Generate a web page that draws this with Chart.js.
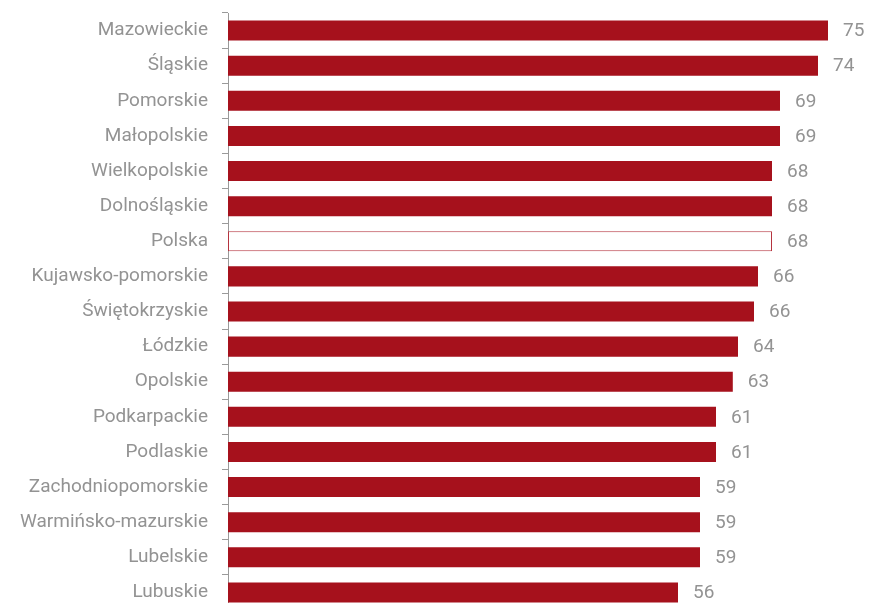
<!DOCTYPE html>
<html>
<head>
<meta charset="utf-8">
<script src="https://cdn.jsdelivr.net/npm/chart.js@4/dist/chart.umd.min.js"></script>
<style>
  html, body { margin: 0; padding: 0; background: #fff; overflow: hidden; }
  #wrap { position: relative; width: 871px; height: 610px; }
</style>
</head>
<body>
<div id="wrap"><canvas id="myChart"></canvas></div>
<script>
const regions = ['Mazowieckie', 'Śląskie', 'Pomorskie', 'Małopolskie', 'Wielkopolskie', 'Dolnośląskie', 'Polska',
  'Kujawsko-pomorskie', 'Świętokrzyskie', 'Łódzkie', 'Opolskie', 'Podkarpackie', 'Podlaskie',
  'Zachodniopomorskie', 'Warmińsko-mazurskie', 'Lubelskie', 'Lubuskie'];
// bar lengths (labels are rounded)
const values = [75, 73.75, 69, 69, 68, 68, 68, 66.25, 65.75, 63.75, 63.1, 61, 61, 59, 59, 59, 56.25];
const valueText = ['75', '74', '69', '69', '68', '68', '68', '66', '66', '64', '63', '61', '61', '59', '59', '59', '56'];
const highlight = 'Polska';

const red = '#a6111c';
const grey = '#939393';

const valueLabels = {
  id: 'valueLabels',
  afterDatasetsDraw(chart) {
    const ctx = chart.ctx;
    const meta = chart.getDatasetMeta(0);
    ctx.save();
    ctx.font = '19px Roboto';
    ctx.fillStyle = grey;
    ctx.textAlign = 'left';
    ctx.textBaseline = 'middle';
    meta.data.forEach((bar, i) => {
      ctx.fillText(valueText[i], bar.x + 15, bar.y + 1);
    });
    ctx.restore();
  }
};

const ctx = document.getElementById('myChart').getContext('2d');
const myChart = new Chart(ctx, {
  type: 'bar',
  data: {
    labels: regions,
    datasets: [{
      data: values,
      backgroundColor: regions.map(r => r === highlight ? '#ffffff' : red),
      borderColor: regions.map(r => r === highlight ? '#b5343f' : red),
      borderWidth: regions.map(r => r === highlight ? 1 : 0),
      borderSkipped: false,
      barPercentage: 0.57,
      categoryPercentage: 1
    }]
  },
  options: {
    indexAxis: 'y',
    responsive: true,
    maintainAspectRatio: false,
    animation: false,
    layout: { padding: { top: 13, right: 3, bottom: 0, left: 0 } },
    plugins: { legend: { display: false }, tooltip: { enabled: false } },
    scales: {
      x: { display: false, min: 0, max: 80 },
      y: {
        afterFit(scale) {
          scale.width = 228;
          scale.paddingTop = 0;
          scale.paddingBottom = 0;
        },
        border: { display: true, color: '#9a9a9a', width: 1 },
        grid: { display: true, drawOnChartArea: false, drawTicks: true, tickLength: 6, color: '#9a9a9a', offset: true },
        ticks: { color: grey, font: { family: 'Roboto', size: 19 }, padding: 14 }
      }
    }
  },
  plugins: [valueLabels]
});
</script>
</body>
</html>
